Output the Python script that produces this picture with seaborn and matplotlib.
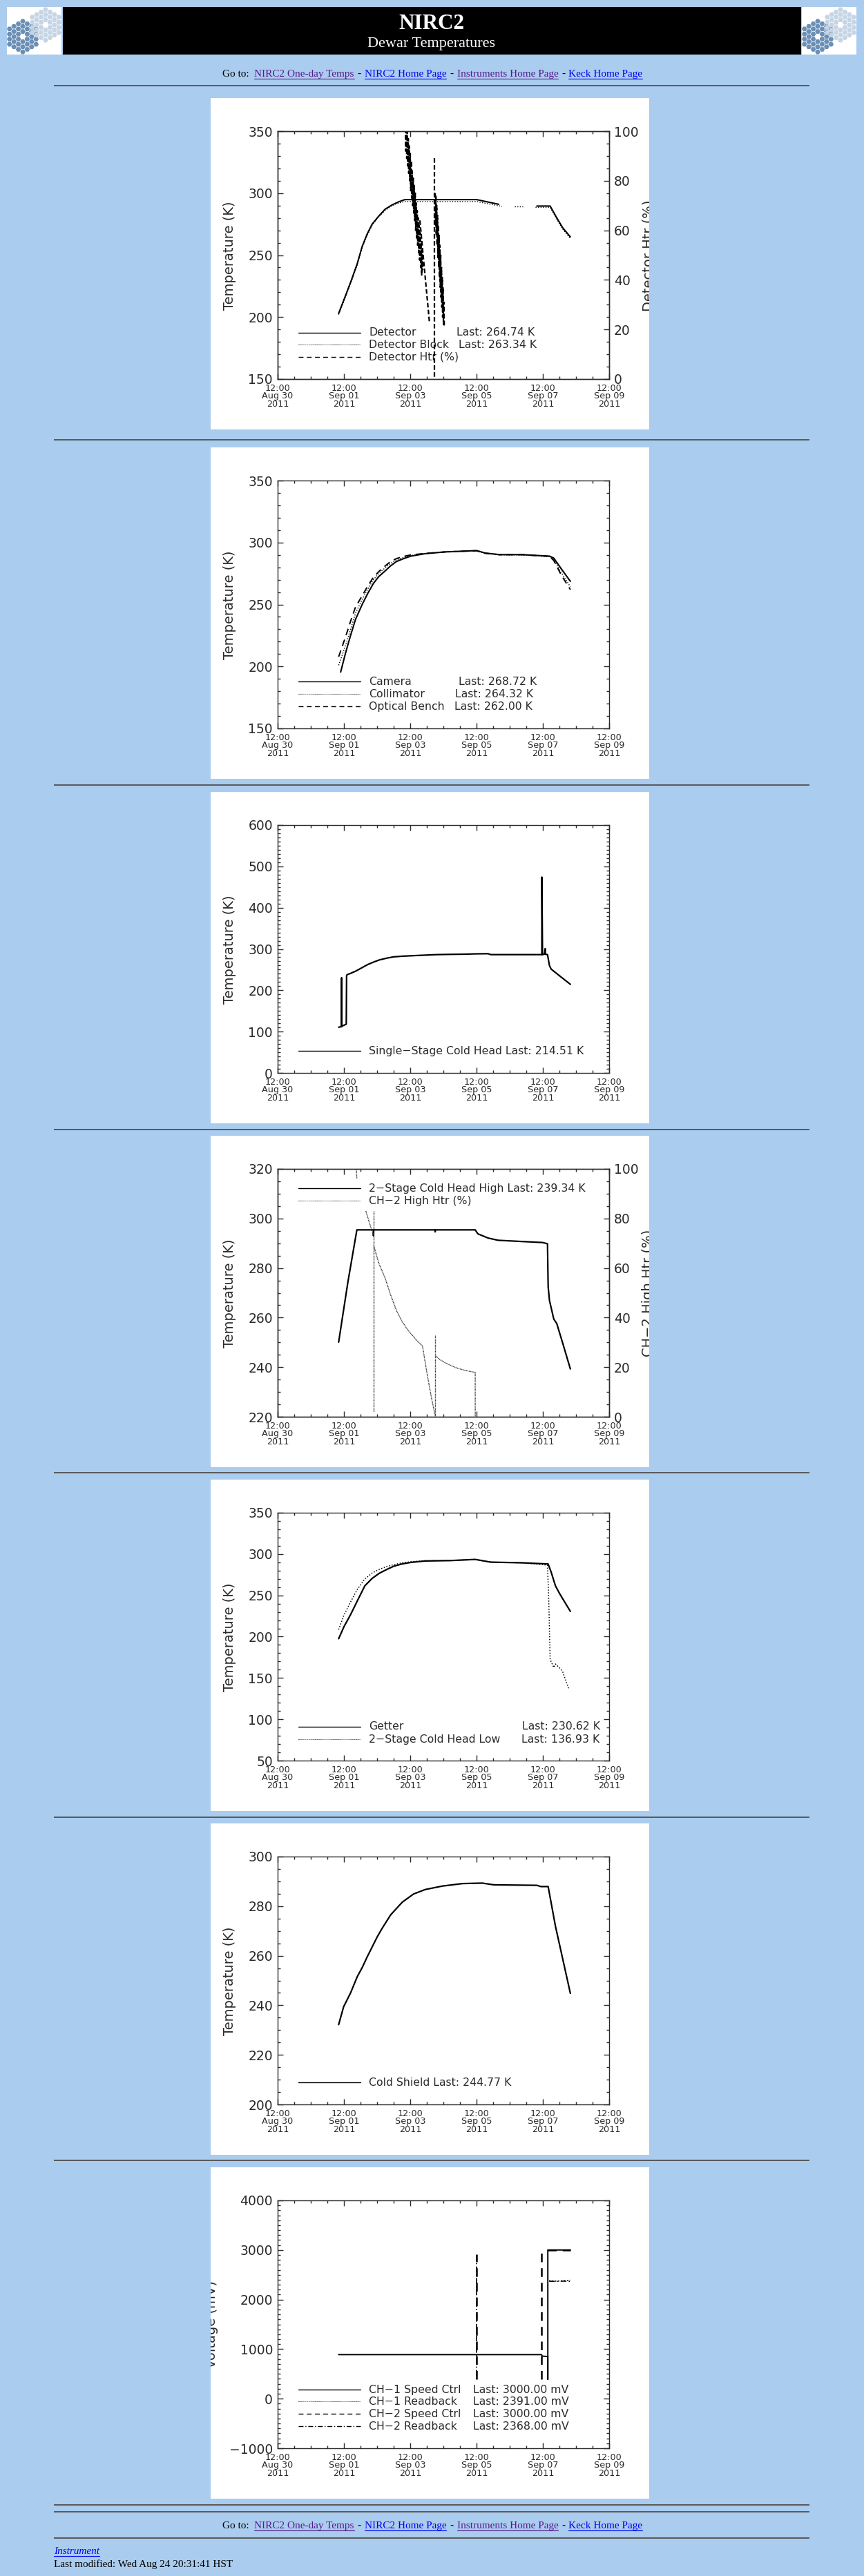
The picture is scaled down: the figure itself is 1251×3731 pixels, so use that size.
import numpy as np
import pandas as pd
import matplotlib
matplotlib.use("Agg")
import matplotlib.pyplot as plt
from matplotlib.patches import Rectangle, RegularPolygon
from matplotlib.ticker import MultipleLocator
import seaborn as sns

# ======================================
# PAGE GEOMETRY (pixels)
# ======================================
W, H = 1251, 3731
PAGE_BG = "#AACCEE"
TXT = "#2a2a2a"
nan = np.nan

# x axis = days since 12:00 Aug 30 2011 (HST)
xtick_days = [0, 2, 4, 6, 8, 10]
xtick_labels = ["12:00\nAug 30\n2011", "12:00\nSep 01\n2011", "12:00\nSep 03\n2011",
                "12:00\nSep 05\n2011", "12:00\nSep 07\n2011", "12:00\nSep 09\n2011"]

# ======================================
# DATA
# ======================================
# --- Detector
det_x = [1.84, 2.00, 2.20, 2.40, 2.55, 2.70, 2.85, 3.05, 3.24, 3.45, 3.65, 3.84, 4.50, 5.20, 6.00, 6.67,
         nan, 7.82, 8.22, 8.40, 8.60, 8.83]
det_y = [203, 214, 228, 243, 257, 267, 275, 281.5, 287, 290.5, 293, 294.8, 294.8, 294.8, 294.8, 291,
         nan, 289.6, 289.6, 281, 272, 264.7]
blk_x = [1.84, 2.00, 2.20, 2.40, 2.55, 2.70, 2.85, 3.05, 3.24, 3.45, 3.65, 3.84, 4.50, 5.20, 6.00, 6.77,
         nan, 7.15, 7.40, nan, 7.78, 8.22, 8.40, 8.60, 8.83]
blk_y = [202, 213, 227, 242, 256, 266, 274, 281, 286, 290, 292, 293.2, 293.2, 293.2, 293.2, 289.3,
         nan, 289.2, 289.2, nan, 288.6, 288.6, 280, 271, 263.3]
dhtr_x = [3.85, 3.865, 3.88, 3.895, 3.91, 3.925, 3.94, 3.955, 3.97, 3.985, 4.00, 4.015, 4.03, 4.045,
          4.06, 4.075, 4.09, 4.105, 4.12, 4.135, 4.15, 4.165, 4.18, 4.195, 4.21, 4.225, 4.24, 4.255,
          4.27, 4.285, 4.30, 4.315, 4.33, 4.345, 4.36, 4.375,
          nan, 4.29, 4.58, nan, 4.73, 4.73, nan,
          4.75, 4.762, 4.774, 4.786, 4.798, 4.81, 4.822, 4.834, 4.846, 4.858, 4.87, 4.882, 4.894,
          4.906, 4.918, 4.93, 4.942, 4.954, 4.966, 4.978, 4.99, 5.002, 5.014, 5.026]
dhtr_y = [104, 92, 103, 89, 100, 86, 97, 83, 94, 80, 91, 76, 88, 73, 84, 70, 81, 67, 78, 64, 75, 60,
          71, 57, 68, 54, 65, 51, 62, 48, 59, 45, 55, 42, 52, 44,
          nan, 64, 22.8, nan, 89, 0, nan,
          75, 62, 74, 58, 70, 54, 66, 49, 62, 45, 58, 41, 54, 37, 50, 33, 45, 29, 41, 25, 37, 22, 31, 21]

# --- Optics
opt_x = [1.84, 2.05, 2.20, 2.35, 2.55, 2.72, 2.89, 3.05, 3.24, 3.40, 3.58, 3.80, 4.02, 4.45, 5.05,
         5.60, 6.00, 6.26, 6.69, 7.38, 8.20, 8.33, 8.55, 8.83]
cam_y = [None, 211, 225, 238, 250, 259, 267, 272.5, 277, 281, 284.6, 287, 289, 291, 292.4,
         293, 293.5, 291.5, 290.2, 290.2, 289, 287.4, 279, 268.7]
cam_x0, cam_y0 = 1.90, 195.4
col_y = [201, 217, 230, 243, 254, 262.5, 270, 275, 279.5, 283, 286, 288, 289.5, 291, 292.4,
         293, 293.3, 291.3, 290, 290, 288.5, 286, 276, 264.3]
bench_y = [207.8, 224, 236.5, 248, 257, 265, 272, 276.5, 281, 284.5, 287, 288.8, 290, 291.2, 292.4,
           293, 293.3, 291.3, 290.2, 290.2, 288.8, 285.5, 274, 262.0]

# --- Single-stage cold head
ss_x = [1.84, 1.93, 1.93, 1.93, 2.07, 2.08, 2.10, 2.20, 2.37, 2.55, 2.72, 2.90, 3.07, 3.30, 3.50,
        3.75, 4.02, 4.40, 4.79, 5.20, 5.66, 6.00, 6.35, 6.43, 7.20, 7.97, 7.97, 7.99, 8.05, 8.07,
        8.08, 8.14, 8.20, 8.25, 8.38, 8.60, 8.83]
ss_y = [110.7, 112, 230, 113, 118, 236, 238, 241, 247, 255, 262.5, 268.5, 273.6, 278, 281,
        282.5, 283.6, 285, 286.4, 287, 287.5, 288.3, 288.6, 286.4, 286.4, 286.4, 474, 286.4, 287.5, 301,
        287, 286.4, 259.7, 251.4, 243, 229, 214.5]

# --- 2-stage cold head
ch_x = [1.84, 2.12, 2.39, 2.89, 2.89, 2.90, 4.75, 4.75, 4.76, 5.96, 6.04, 6.35, 6.65, 7.38, 7.99,
        8.14, 8.16, 8.20, 8.33, 8.42, 8.59, 8.83]
ch_y = [250.1, 274.4, 295.4, 295.4, 293, 295.4, 295.4, 294.6, 295.4, 295.4, 293.8, 292.1, 291.2,
        290.7, 290.3, 289.8, 272.5, 266.9, 259.4, 257.6, 250.1, 239.3]
h2_x = [2.36, 2.39, nan, 2.66, 2.89, nan, 2.89, 2.89, nan, 2.90, 3.05, 3.24, 3.40, 3.58, 3.75, 3.93,
        4.15, 4.37, 4.50, 4.62, 4.75, nan, 4.75, 4.75, nan, 4.77, 4.90, 5.05, 5.22, 5.40, 5.60, 5.80,
        5.96, 5.96]
h2_y = [103, 96, nan, 83, 73, nan, 83, 2, nan, 69, 62, 56, 49.5, 43, 38.5, 35,
        31.5, 28.5, 18, 9, 0.5, nan, 33, 0, nan, 24.5, 23, 21.8, 20.7, 19.7, 18.9, 18.3,
        17.9, 0]

# --- Getter / 2-stage low
get_x = [1.84, 2.00, 2.20, 2.40, 2.63, 2.85, 3.07, 3.30, 3.50, 3.75, 4.02, 4.45, 5.22, 5.96, 6.43,
         7.38, 8.16, 8.25, 8.38, 8.51, 8.83]
get_y = [197.5, 212, 226.7, 243, 261.5, 270.5, 276.8, 281.5, 285.2, 288, 289.9, 291.6, 292.1, 293.5,
         290.2, 289.4, 288, 278.2, 261.5, 251.8, 230.6]
low_x = [1.84, 2.00, 2.20, 2.40, 2.63, 2.85, 3.07, 3.30, 3.50, 3.75, 4.10, 4.45, 5.22, 5.96, 6.43,
         7.38, 8.14, 8.18, 8.22, 8.33, 8.38, 8.46, 8.59, 8.78]
low_y = [208.6, 226, 242, 257, 269.9, 277, 281.6, 285, 287.1, 289.5, 291, 292, 292.3, 293.3, 290.2,
         289.4, 286.6, 242, 172.5, 162.7, 166.9, 164, 158.5, 136.9]

# --- Cold shield
cs_x = [1.84, 1.99, 2.20, 2.40, 2.55, 2.70, 2.85, 3.00, 3.15, 3.41, 3.76, 4.10, 4.45, 4.97, 5.57,
        6.17, 6.52, 7.82, 7.94, 8.16, 8.38, 8.83]
cs_y = [232.2, 239.4, 245, 251.5, 255.2, 259.5, 263.5, 267.5, 271, 276.5, 281.6, 284.9, 286.7,
        288.1, 289.1, 289.3, 288.6, 288.4, 287.9, 287.9, 271.9, 244.8]

# --- Cold head control (mV)
c1s_x = [1.84, 7.96, 7.98, 8.15, 8.15, 8.15, 8.83]
c1s_y = [889, 889, 860, 850, 390, 3000, 3000]
c1r_x = [8.19, 8.40, 8.60, 8.83]
c1r_y = [2380, 2372, 2378, 2391]
c2s_x = [6.00, 6.00, nan, 7.96, 7.96, nan, 8.15, 8.83]
c2s_y = [390, 2920, nan, 390, 2940, nan, 3000, 3000]
c2r_x = [6.01, 6.01, nan, 8.19, 8.40, 8.60, 8.83]
c2r_y = [2900, 390, nan, 2370, 2366, 2372, 2368]

# ======================================
# STYLE
# ======================================
sns.set_theme(style="ticks")
plt.rcParams["font.family"] = ["DejaVu Sans"]
plt.rcParams["axes.unicode_minus"] = True

SOLID = "-"
DOT = (0, (1, 1.6))
DASH = (0, (5, 3.5))
DASHDOT = (0, (5, 2, 1, 2))

fig = plt.figure(figsize=(W / 100, H / 100), dpi=100, facecolor=PAGE_BG)

pg = fig.add_axes([0, 0, 1, 1])
pg.set_xlim(0, W)
pg.set_ylim(H, 0)
pg.axis("off")


def px_axes(x, y, w, h):
    return fig.add_axes([x / W, 1 - (y + h) / H, w / W, h / H])


def draw_series(ax, x, y, style, lw=1.0, color="black"):
    df = pd.DataFrame({"t": x, "v": y}, dtype=float)
    df["seg"] = df["v"].isna().cumsum()
    df = df.dropna()
    sns.lineplot(data=df, x="t", y="v", units="seg", estimator=None, sort=False, ax=ax,
                 color=color, linestyle=style, linewidth=lw, legend=False)
    ax.set(xlabel="", ylabel="")


def style_y(ax, ylim, major, minor):
    ax.set_ylim(*ylim)
    ax.set_yticks(np.arange(ylim[0], ylim[1] + 1, major))
    ax.yaxis.set_minor_locator(MultipleLocator(minor))
    ax.tick_params(axis="y", labelsize=13.5, pad=5, labelcolor=TXT)


# ======================================
# PANEL FRAME
# ======================================
BOX_X, BOX_W, BOX_H = 305, 635, 480


def panel(top, sub, ylab, twin=None, ylab_x=333):
    bg = px_axes(BOX_X, top, BOX_W, BOX_H)
    bg.set_facecolor("white")
    bg.set_xticks([])
    bg.set_yticks([])
    for s in bg.spines.values():
        s.set_visible(False)
    bg.text((ylab_x - BOX_X) / BOX_W, 1 - (48 + 180) / BOX_H, ylab, rotation=90,
            ha="center", va="center", fontsize=14, color=TXT, transform=bg.transAxes, clip_on=True)
    if twin:
        bg.text((939 - BOX_X) / BOX_W, 1 - (48 + 180) / BOX_H, twin, rotation=90,
                ha="center", va="center", fontsize=14, color=TXT, transform=bg.transAxes,
                clip_on=True)

    pg.text(642, top + 18, "NIRC2 Dewar Temps", ha="center", va="center", fontsize=11.5, color=TXT)
    pg.text(642, top + 32, sub, ha="center", va="center", fontsize=11.5, color=TXT)
    pg.text(642, top + 48 + 359 + 54, "HST", ha="center", va="center", fontsize=9.2, color=TXT)

    ax = px_axes(402, top + 48, 480, 359)
    ax.set_facecolor("none")
    ax2 = ax.twinx() if twin else None
    return ax, ax2


def finish(ax, ylim, major, minor, ax2=None, ylim2=None, major2=None, minor2=None):
    ax.set_xlim(0, 10)
    ax.set_xticks(xtick_days)
    ax.set_xticklabels(xtick_labels, fontsize=9.2, linespacing=0.85, color=TXT)
    ax.xaxis.set_minor_locator(MultipleLocator(0.5))
    style_y(ax, ylim, major, minor)
    ax.tick_params(which="both", direction="in", top=True, right=ax2 is None, color=TXT, width=1)
    ax.tick_params(which="major", length=5.8)
    ax.tick_params(which="minor", length=2.9)
    ax.tick_params(axis="x", pad=5)
    for s in ax.spines.values():
        s.set_linewidth(1.0)
        s.set_color(TXT)
    if ax2 is not None:
        style_y(ax2, ylim2, major2, minor2)
        ax2.tick_params(which="both", direction="in", color=TXT, width=1)
        ax2.tick_params(which="major", length=5.8)
        ax2.tick_params(which="minor", length=2.9)
        ax2.set_xlim(0, 10)
        for s in ax2.spines.values():
            s.set_linewidth(1.0)
            s.set_color(TXT)


def legend_rows(ax, rows):
    for ry, ls, name, last, lx, ha in rows:
        ax.plot([0.0625, 0.25], [ry, ry], transform=ax.transAxes, color="black",
                linestyle=ls, linewidth=1.0 if ls != DOT else 0.8)
        ax.text(0.275, ry, name, transform=ax.transAxes, ha="left", va="center",
                fontsize=11.3, color=TXT)
        if last:
            ax.text(lx, ry, last, transform=ax.transAxes, ha=ha, va="center",
                    fontsize=11.3, color=TXT)


TOPS = [142, 648, 1147, 1645, 2143, 2641, 3139]

# ---- 1. Detector
ax, ax2 = panel(TOPS[0], "Detector", "Temperature (K)", twin="Detector Htr (%)")
draw_series(ax, det_x, det_y, SOLID, 1.5)
draw_series(ax, blk_x, blk_y, DOT, 1.0)
draw_series(ax2, dhtr_x, dhtr_y, (0, (3, 1.5)), 1.6)
finish(ax, (150, 350), 50, 10, ax2, (0, 100), 20, 5)
legend_rows(ax, [(0.187, SOLID, "Detector", "Last: 264.74 K", 0.539, "left"),
                 (0.139, DOT, "Detector Block", "Last: 263.34 K", 0.545, "left"),
                 (0.089, DASH, "Detector Htr (%)", "", 0, "left")])

# ---- 2. Optics
ax, _ = panel(TOPS[1], "Optics", "Temperature (K)")
draw_series(ax, [cam_x0] + opt_x[1:], [cam_y0] + cam_y[1:], SOLID, 1.5)
draw_series(ax, opt_x, col_y, DOT, 1.0)
draw_series(ax, opt_x, bench_y, DASH, 1.4)
finish(ax, (150, 350), 50, 10)
legend_rows(ax, [(0.189, SOLID, "Camera", "Last: 268.72 K", 0.546, "left"),
                 (0.139, DOT, "Collimator", "Last: 264.32 K", 0.535, "left"),
                 (0.089, DASH, "Optical Bench", "Last: 262.00 K", 0.533, "left")])

# ---- 3. Single-stage cold head
ax, _ = panel(TOPS[2], "Single\u2212Stage Cold Head", "Temperature (K)")
draw_series(ax, ss_x, ss_y, SOLID, 1.6)
finish(ax, (0, 600), 100, 10)
legend_rows(ax, [(0.088, SOLID, "Single\u2212Stage Cold Head Last: 214.51 K", "", 0, "left")])

# ---- 4. 2-stage cold head
ax, ax2 = panel(TOPS[3], "2\u2212Stage Cold Head", "Temperature (K)", twin="CH\u22122 High Htr (%)")
draw_series(ax, ch_x, ch_y, SOLID, 1.6)
draw_series(ax2, h2_x, h2_y, (0, (1, 0.6)), 1.0, color="#333333")
finish(ax, (220, 320), 20, 5, ax2, (0, 100), 20, 5)
legend_rows(ax, [(0.921, SOLID, "2\u2212Stage Cold Head High Last: 239.34 K", "", 0, "left"),
                 (0.871, DOT, "CH\u22122 High Htr (%)", "", 0, "left")])

# ---- 5. Getter
ax, _ = panel(TOPS[4], "Getter and 2\u2212Stage Cold Head Low", "Temperature (K)")
draw_series(ax, get_x, get_y, SOLID, 1.6)
draw_series(ax, low_x, low_y, DOT, 1.1)
finish(ax, (50, 350), 50, 10)
legend_rows(ax, [(0.137, SOLID, "Getter", "Last: 230.62 K", 0.972, "right"),
                 (0.086, DOT, "2\u2212Stage Cold Head Low", "Last: 136.93 K", 0.972, "right")])

# ---- 6. Cold shield
ax, _ = panel(TOPS[5], "Cold Shield", "Temperature (K)")
draw_series(ax, cs_x, cs_y, SOLID, 1.6)
finish(ax, (200, 300), 20, 5)
legend_rows(ax, [(0.088, SOLID, "Cold Shield Last: 244.77 K", "", 0, "left")])

# ---- 7. Cold head control
ax, _ = panel(TOPS[6], "Cold Head Control", "Voltage (mV)", ylab_x=307)
draw_series(ax, c1s_x, c1s_y, SOLID, 1.4)
draw_series(ax, c1r_x, c1r_y, DOT, 1.2)
draw_series(ax, c2s_x, c2s_y, DASH, 1.8)
draw_series(ax, c2r_x, c2r_y, DASHDOT, 1.2)
finish(ax, (-1000, 4000), 1000, 100)
legend_rows(ax, [(0.236, SOLID, "CH\u22121 Speed Ctrl", "Last: 3000.00 mV", 0.59, "left"),
                 (0.189, DOT, "CH\u22121 Readback", "Last: 2391.00 mV", 0.59, "left"),
                 (0.139, DASH, "CH\u22122 Speed Ctrl", "Last: 3000.00 mV", 0.59, "left"),
                 (0.089, DASHDOT, "CH\u22122 Readback", "Last: 2368.00 mV", 0.59, "left")])

# ======================================
# PAGE HEADER / FOOTER
# ======================================
def keck_logo(x0, y0):
    pg.add_patch(Rectangle((x0, y0), 79, 69, color="white", lw=0))
    s = 4.27
    for cx, cy, col in [(x0 + 23, y0 + 43, "#6b8fb6"), (x0 + 56, y0 + 26, "#c6d5e5")]:
        for q in range(-3, 4):
            for r in range(-3, 4):
                if max(abs(q), abs(r), abs(q + r)) > 3 or (q == 0 and r == 0):
                    continue
                hx = cx + 1.5 * s * q
                hy = cy + np.sqrt(3) * s * (r + q / 2)
                pg.add_patch(RegularPolygon((hx, hy), 6, radius=s * 0.9, orientation=np.pi / 6,
                                            color=col, lw=0))


pg.add_patch(Rectangle((91, 10), 1069, 69, color="black", lw=0))
keck_logo(10, 10)
keck_logo(1161, 10)
pg.text(625, 41.5, "NIRC2", ha="center", va="baseline", fontsize=22.5, fontweight="bold",
        color="white", family="Liberation Serif")
pg.text(625, 68, "Dewar Temperatures", ha="center", va="baseline", fontsize=16,
        color="white", family="Liberation Serif")

renderer = fig.canvas.get_renderer()
VISITED, LINK = "#551A8B", "#0000EE"


def goto_line(base_y):
    pieces = [("Go to:", "black", False, 8), ("NIRC2 One-day Temps", VISITED, True, 5),
              ("-", "black", False, 5), ("NIRC2 Home Page", LINK, True, 5),
              ("-", "black", False, 5), ("Instruments Home Page", VISITED, True, 5),
              ("-", "black", False, 5), ("Keck Home Page", LINK, True, 0)]
    texts = []
    for s, c, u, gap in pieces:
        t = pg.text(0, base_y, s, ha="left", va="baseline", fontsize=11, color=c,
                    family="Liberation Serif")
        texts.append((t, t.get_window_extent(renderer=renderer).width, u, gap, c))
    total = sum(w + g for _, w, _, g, _ in texts)
    x = 626 - total / 2
    for t, w, u, gap, c in texts:
        t.set_x(x)
        if u:
            pg.plot([x, x + w], [base_y + 2.5, base_y + 2.5], color=c, lw=0.8)
        x += w + gap


goto_line(111)

for ry in [124, 637, 1137, 1636, 2133, 2632, 3129, 3628, 3638, 3676]:
    pg.add_patch(Rectangle((78, ry - 1), 1094, 2, color="#5a5a5a", lw=0))

goto_line(3662)
t = pg.text(78, 3699, "Instrument", ha="left", va="baseline", fontsize=11, color=LINK,
            style="italic", family="Liberation Serif")
w = t.get_window_extent(renderer=renderer).width
pg.plot([78, 78 + w], [3702, 3702], color=LINK, lw=0.8)
pg.text(78, 3718, "Last modified: Wed Aug 24 20:31:41 HST", ha="left", va="baseline",
        fontsize=11, color="black", family="Liberation Serif")

fig.savefig("out.png", dpi=100, facecolor=PAGE_BG)
